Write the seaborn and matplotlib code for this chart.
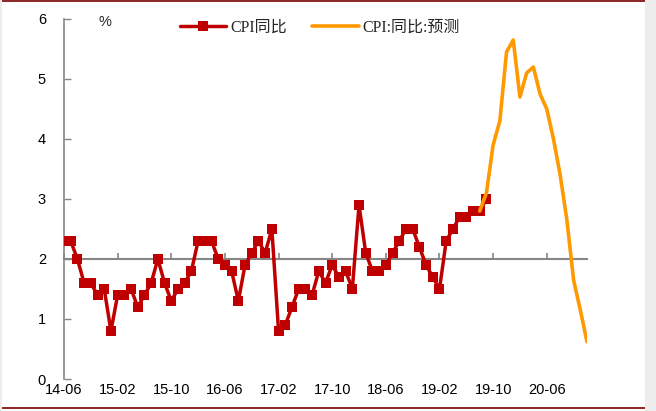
import numpy as np
import pandas as pd
import matplotlib
matplotlib.use("Agg")
import matplotlib.pyplot as plt
import seaborn as sns
from matplotlib.patches import Rectangle
from matplotlib.lines import Line2D

# ---------------- data ----------------
start_label = "14-06"          # first month (2014-06)
tick_labels = ["14-06", "15-02", "15-10", "16-06", "17-02",
               "17-10", "18-06", "19-02", "19-10", "20-06"]
tick_step = 8                   # months between labels
n_months_axis = 78              # 2014-06 .. 2020-12

cpi_actual = [2.3, 2.3, 2.0, 1.6, 1.6, 1.4, 1.5,            # 2014-06..12
              0.8, 1.4, 1.4, 1.5, 1.2, 1.4, 1.6, 2.0, 1.6, 1.3, 1.5, 1.6,   # 2015
              1.8, 2.3, 2.3, 2.3, 2.0, 1.9, 1.8, 1.3, 1.9, 2.1, 2.3, 2.1,   # 2016
              2.5, 0.8, 0.9, 1.2, 1.5, 1.5, 1.4, 1.8, 1.6, 1.9, 1.7, 1.8,   # 2017
              1.5, 2.9, 2.1, 1.8, 1.8, 1.9, 2.1, 2.3, 2.5, 2.5, 2.2, 1.9,   # 2018
              1.7, 1.5, 2.3, 2.5, 2.7, 2.7, 2.8, 2.8, 3.0]                   # 2019-01..09
forecast_start = 62             # forecast begins 2019-08
cpi_forecast = [2.8, 3.1, 3.9, 4.3, 5.45, 5.65, 4.7, 5.1, 5.2,
                4.75, 4.5, 4.0, 3.4, 2.65, 1.65, 1.15, 0.62]

df_a = pd.DataFrame({"m": np.arange(len(cpi_actual)), "v": cpi_actual})
df_f = pd.DataFrame({"m": forecast_start + np.arange(len(cpi_forecast)), "v": cpi_forecast})

# ---------------- style ----------------
sns.set_theme(style="white")
plt.rcParams["font.family"] = ["Liberation Sans", "DejaVu Sans"]

W, H = 656, 411
fig = plt.figure(figsize=(W / 100, H / 100), dpi=100)
ax = fig.add_axes([64 / W, 1 - 379 / H, (587 - 64) / W, (379 - 19) / H])

red = "#C00000"
orange = "#FF9900"
grey = "#868686"

sns.lineplot(data=df_a, x="m", y="v", ax=ax, color=red, lw=2.5,
             marker="s", markersize=6.8, markeredgewidth=0, zorder=3)
sns.lineplot(data=df_f, x="m", y="v", ax=ax, color=orange, lw=2.6,
             solid_capstyle="round", solid_joinstyle="round", zorder=4)

ax.set_xlim(0, n_months_axis)
ax.set_ylim(0, 6)
ax.set_xlabel("")
ax.set_ylabel("")

for s in ["top", "right"]:
    ax.spines[s].set_visible(False)
ax.spines["left"].set_color(grey)
ax.spines["left"].set_linewidth(1.2)
ax.spines["bottom"].set_position(("data", 2))
ax.spines["bottom"].set_color(grey)
ax.spines["bottom"].set_linewidth(1.5)

ticks = np.arange(0, len(tick_labels)) * tick_step
ax.set_xticks(ticks)
ax.tick_params(axis="x", direction="in", length=4, width=1.2, color=grey,
               labelbottom=False, bottom=True)
ax.set_yticks(np.arange(0, 7, 1))
ax.set_yticklabels([str(i) for i in range(7)])
ax.tick_params(axis="y", direction="in", length=5, width=1.0, color=grey,
               labelsize=10.5, pad=13, labelcolor="#000000", left=True)

sec = ax.secondary_xaxis("bottom")
sec.set_xticks(ticks)
sec.set_xticklabels(tick_labels)
sec.tick_params(length=0, labelsize=10.5, pad=3, labelcolor="#000000")
sec.spines["bottom"].set_visible(False)

ax.text(105 / W, 1 - 22 / H, "%", transform=fig.transFigure, ha="center",
        va="center", fontsize=10.5, family=["Liberation Sans"])

handles = [Line2D([], [], color=red, lw=2.5, marker="s", markersize=6.8,
                  markeredgewidth=0),
           Line2D([], [], color=orange, lw=2.6)]
leg = fig.legend(handles, ["CPI同比", "CPI:同比:预测"], loc="center left",
                 bbox_to_anchor=(180 / W, 1 - 28 / H), ncol=2, frameon=False,
                 borderpad=0, borderaxespad=0, handlelength=2.9,
                 handletextpad=0.25, columnspacing=1.6,
                 prop={"family": ["Liberation Serif", "Noto Sans CJK SC"], "size": 11.5})

# decorative frame
fig.add_artist(Rectangle((0, 1 - 2 / H), 1, 2 / H, transform=fig.transFigure,
                         color="#8E2A2A", lw=0))
fig.add_artist(Rectangle((0, 1 - 409 / H), 1, 2 / H, transform=fig.transFigure,
                         color="#8E2A2A", lw=0))
fig.add_artist(Rectangle((645 / W, 0), 11 / W, 1, transform=fig.transFigure,
                         color="#EDEDED", lw=0))
fig.add_artist(Rectangle((0, 0), 2 / W, 1, transform=fig.transFigure,
                         color="#EDEDED", lw=0))

fig.savefig("out.png", dpi=100)
